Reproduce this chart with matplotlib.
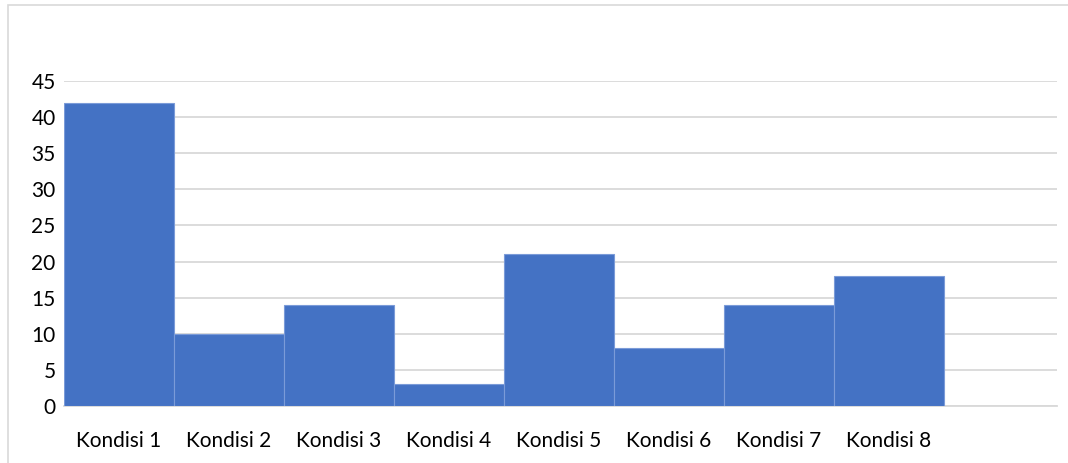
import matplotlib.pyplot as plt
from matplotlib.patches import Rectangle

labels = ["Kondisi 1", "Kondisi 2", "Kondisi 3", "Kondisi 4",
          "Kondisi 5", "Kondisi 6", "Kondisi 7", "Kondisi 8"]
values = [42, 10, 14, 3, 21, 8, 14, 18]
yticks = [0, 5, 10, 15, 20, 25, 30, 35, 40, 45]

plt.rcParams['font.family'] = ['Lato', 'DejaVu Sans']

fig = plt.figure(figsize=(10.68, 4.63), dpi=100)
ax = fig.add_axes([64 / 1068, 1 - 406 / 463, (1057 - 64) / 1068, (406 - 81) / 463])

# light frame around the chart area
fig.patches.append(Rectangle((8 / 1068, -0.1), 1.2, 1 - 5 / 463 + 0.1,
                             transform=fig.transFigure, fill=False,
                             edgecolor='#d9d9d9', linewidth=1.2))

x = range(len(values))
ax.bar(x, values, width=1.0, color='#4472C4', edgecolor='#7b9bd8',
       linewidth=0.8, zorder=3)

ax.set_xlim(-0.5, 8.53)
ax.set_ylim(0, 45)
ax.set_yticks(yticks)
ax.set_xticks(list(x))
ax.set_xticklabels(labels)
ax.grid(axis='y', color='#d9d9d9', linewidth=1.3, zorder=0)

for side in ['top', 'right', 'left']:
    ax.spines[side].set_visible(False)
ax.spines['bottom'].set_color('#d9d9d9')
ax.spines['bottom'].set_linewidth(1.3)
ax.tick_params(axis='both', length=0, labelsize=15, colors='#000000')
ax.tick_params(axis='x', pad=18)
ax.tick_params(axis='y', pad=6)

fig.savefig('out.png', dpi=100)
